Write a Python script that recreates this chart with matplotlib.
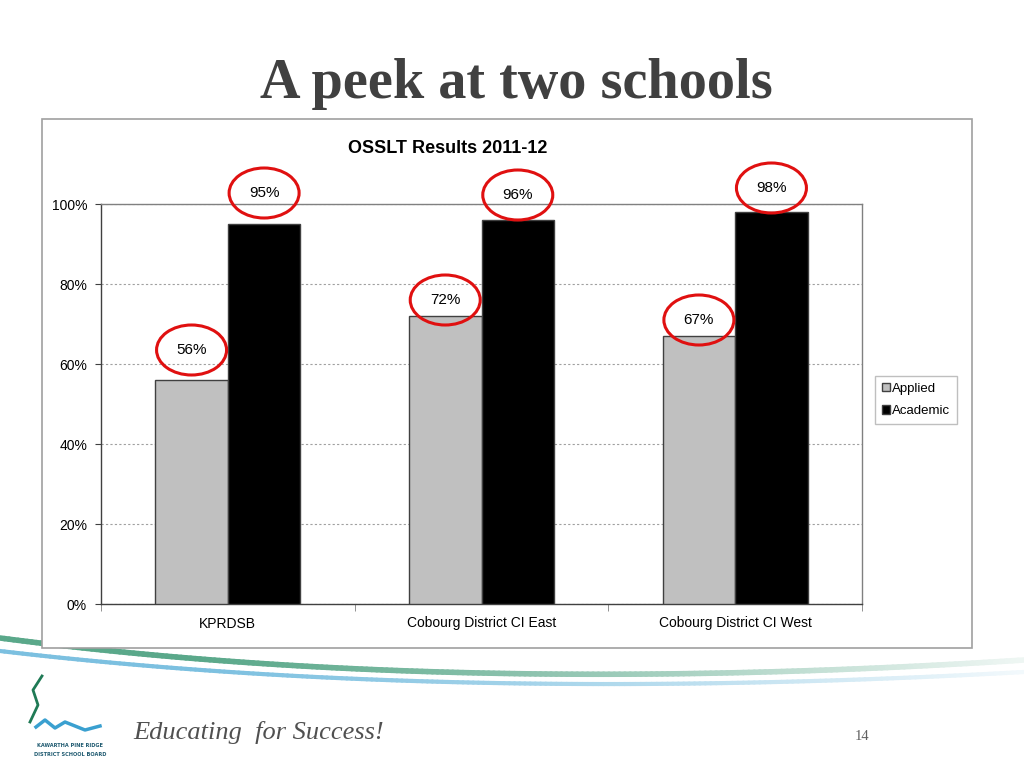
"""
OSSLT-resultater 2011-12: Applied vs Academic for to skoler.
"""

import numpy as np
import matplotlib.pyplot as plt
import matplotlib.colors as mcolors
from matplotlib.patches import Ellipse, Rectangle
from matplotlib.collections import LineCollection

# -------------------------
# Data
# -------------------------
schools = ["KPRDSB", "Cobourg District CI East", "Cobourg District CI West"]
applied = [0.56, 0.72, 0.67]
academic = [0.95, 0.96, 0.98]
y_ticks = [0.0, 0.2, 0.4, 0.6, 0.8, 1.0]
y_tick_labels = ["0%", "20%", "40%", "60%", "80%", "100%"]

# label-forskydning over søjletop (i pixels)
applied_offsets = [30, 16, 16]
academic_offsets = [31, 25, 24]

W, H = 1024, 768
fig = plt.figure(figsize=(W / 100, H / 100), dpi=100)
fig.patch.set_facecolor("white")


def fx(px):
    return px / W


def fy(py):
    return 1 - py / H


# -------------------------
# Dekoration: swoosh-linjer (under diagramrammen)
# -------------------------
def swoosh(p0, c, p1, color, lw):
    t = np.linspace(0, 1, 200)[:, None]
    pts = (1 - t) ** 2 * np.array(p0) + 2 * (1 - t) * t * np.array(c) + t ** 2 * np.array(p1)
    pts = np.column_stack([fx(pts[:, 0]), fy(pts[:, 1])])
    segs = np.stack([pts[:-1], pts[1:]], axis=1)
    fade = np.clip(1.1 - np.linspace(0, 1, len(segs)) ** 1.5, 0.05, 1)[:, None]
    # bland mod hvid i stedet for alpha (undgår striber ved overlap)
    cols = fade * np.array(mcolors.to_rgb(color)) + (1 - fade) * np.ones(3)
    lc = LineCollection(segs, colors=cols, linewidths=lw, transform=fig.transFigure,
                        zorder=0, capstyle="round")
    fig.add_artist(lc)


swoosh((0, 638), (450, 697), (1024, 660), "#5aa88a", 4)
swoosh((0, 651), (450, 704), (1024, 672), "#7cc0e0", 3)

# -------------------------
# Slide-titel
# -------------------------
fig.text(fx(516), fy(84), "A peek at two schools", ha="center", va="center",
         fontsize=40.5, fontweight="bold", family="Liberation Serif", color="#404040")

# ramme om diagram (hvid, dækker swoosh)
fig.add_artist(Rectangle((fx(42), fy(648)), fx(930), 529 / H, transform=fig.transFigure,
                         facecolor="white", edgecolor="#a0a0a0", lw=1.2, zorder=0.5))

# -------------------------
# Selve diagrammet
# -------------------------
ax = fig.add_axes([fx(101), fy(604), fx(761), 400 / H])
ax.set_zorder(2)
ax.patch.set_alpha(0)
x = np.arange(len(schools))
bw = 0.286
b1 = ax.bar(x - bw / 2, applied, bw, color="#c0c0c0", edgecolor="#404040", lw=1, label="Applied", zorder=3)
b2 = ax.bar(x + bw / 2, academic, bw, color="black", edgecolor="#404040", lw=1, label="Academic", zorder=3)

ax.set_xlim(-0.5, len(schools) - 0.5)
ax.set_ylim(0, 1.0)
ax.set_yticks(y_ticks)
ax.set_yticklabels(y_tick_labels, family="Liberation Sans", fontsize=10)
ax.set_xticks(x)
ax.set_xticklabels(schools, family="Liberation Sans", fontsize=10)
ax.tick_params(axis="x", length=0, pad=9)
ax.tick_params(axis="y", length=4, color="#404040", pad=6)
ax.set_xticks(np.arange(len(schools) + 1) - 0.5, minor=True)
ax.tick_params(axis="x", which="minor", length=5, color="#808080")
ax.yaxis.grid(True, ls=(0, (2, 2)), color="#a0a0a0", lw=0.8, zorder=0)
for s in ["top", "right"]:
    ax.spines[s].set_color("#808080")
    ax.spines[s].set_linewidth(1)
for s in ["left", "bottom"]:
    ax.spines[s].set_color("#404040")
    ax.spines[s].set_linewidth(1)

# procent-labels med røde cirkler
for bars, offs in [(b1, applied_offsets), (b2, academic_offsets)]:
    for rect, off in zip(bars, offs):
        v = rect.get_height()
        cx = rect.get_x() + rect.get_width() / 2
        ax.annotate(f"{v * 100:.0f}%", (cx, v), xytext=(0, off), textcoords="offset pixels",
                    ha="center", va="center", fontsize=11, family="Liberation Sans",
                    annotation_clip=False, zorder=6)
        px, py = ax.transData.transform((cx, v))
        e = Ellipse((px, py + off), 70, 50, transform=None,
                    fill=False, edgecolor="#e01010", lw=2.2, zorder=7)
        fig.add_artist(e)

ax.set_title("OSSLT Results 2011-12", fontsize=13, fontweight="bold", family="Liberation Sans",
             x=(448 - 101) / 761, pad=37)

leg = ax.legend(loc="upper left", bbox_to_anchor=(fx(875), fy(376)), bbox_transform=fig.transFigure,
                prop={"family": "Liberation Sans", "size": 9.5}, frameon=True, fancybox=False,
                edgecolor="#b0b0b0", handlelength=0.6, handleheight=0.6, handletextpad=0.2,
                borderpad=0.5, labelspacing=0.8, borderaxespad=0)
leg.get_frame().set_linewidth(1)

# logo (forenklet)
fig.add_artist(plt.Line2D([fx(30), fx(38), fx(33), fx(42)], [fy(722), fy(705), fy(690), fy(676)],
                          color="#1f7a55", lw=2, transform=fig.transFigure))
fig.add_artist(plt.Line2D([fx(36), fx(45), fx(55), fx(65), fx(85), fx(100)],
                          [fy(727), fy(720), fy(728), fy(722), fy(730), fy(726)],
                          color="#3aa0d0", lw=2.5, transform=fig.transFigure))
fig.text(fx(70), fy(747), "KAWARTHA PINE RIDGE", ha="center", fontsize=3.6, fontweight="bold",
         color="#1f5a70", family="DejaVu Sans")
fig.text(fx(70), fy(756), "DISTRICT SCHOOL BOARD", ha="center", fontsize=3.6, fontweight="bold",
         color="#1f5a70", family="DejaVu Sans")

fig.text(fx(133), fy(733), "Educating  for Success!", ha="left", va="center", fontsize=19,
         style="italic", family="Liberation Serif", color="#505050")
fig.text(fx(862), fy(737), "14", ha="center", va="center", fontsize=10.5,
         family="Liberation Serif", color="#606060")

fig.savefig("out.png", dpi=100, facecolor="white")
